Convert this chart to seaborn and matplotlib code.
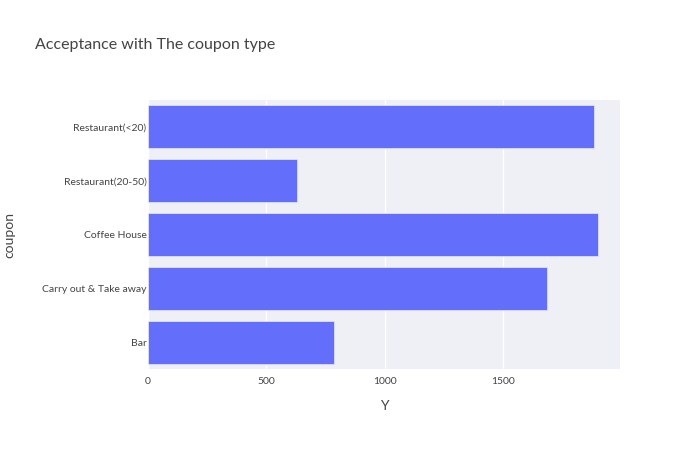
import pandas as pd
import matplotlib.pyplot as plt
import seaborn as sns

# Data
coupons = ["Restaurant(<20)", "Restaurant(20-50)", "Coffee House", "Carry out & Take away", "Bar"]
accepted = [1884, 631, 1898, 1684, 787]

df = pd.DataFrame({"coupon": coupons, "Y": accepted})

sns.set_theme(style="white")
plt.rcParams["font.family"] = ["Lato", "DejaVu Sans"]
text_color = "#444444"

fig = plt.figure(figsize=(7, 4.5), dpi=100)
ax = fig.add_axes([148 / 700, 81 / 450, 472 / 700, 269 / 450])
ax.set_facecolor("#EEF0F5")

sns.barplot(data=df, x="Y", y="coupon", orient="h", order=coupons,
            color="#636EFA", saturation=1, width=0.8, ax=ax, zorder=2,
            edgecolor="#E8EAF6", linewidth=0.5)

ax.set_xlim(0, 1993)
ax.set_xticks([0, 500, 1000, 1500])
ax.set_xticklabels(["0", "500", "1000", "1500"])
ax.grid(axis="x", color="white", linewidth=1, zorder=0)
ax.set_axisbelow(True)
for s in ax.spines.values():
    s.set_visible(False)
ax.tick_params(axis="both", length=0, labelsize=7.5, labelcolor=text_color)
ax.tick_params(axis="x", pad=6)
ax.tick_params(axis="y", pad=1)

ax.set_xlabel("Y", fontsize=10, color=text_color, labelpad=10)
ax.set_ylabel("coupon", fontsize=10, color=text_color, labelpad=19)

fig.text(35 / 700, 1 - 45 / 450, "Acceptance with The coupon type",
         fontsize=11.5, color=text_color, va="center", ha="left")

plt.savefig("out.png", dpi=100)
